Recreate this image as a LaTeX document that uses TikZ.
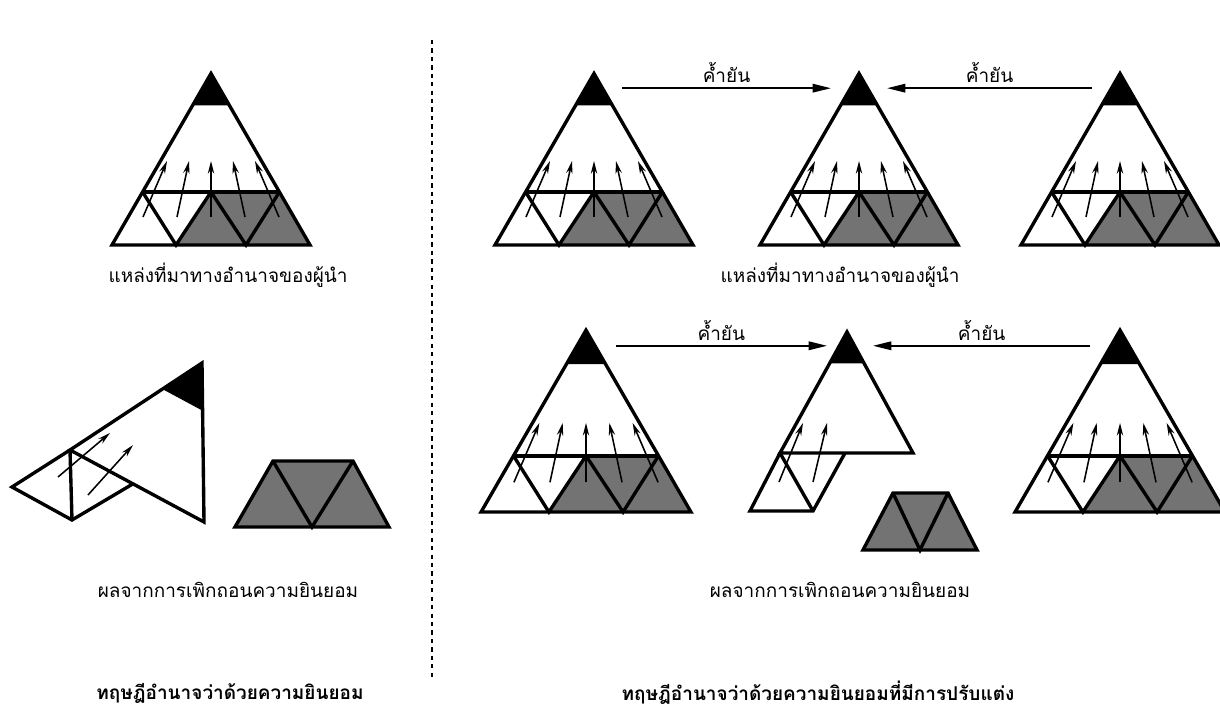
\documentclass[tikz,border=0pt]{standalone}
\usepackage{fontspec}
\newfontfamily\thaifont[Script=Thai]{Loma}
\usetikzlibrary{arrows.meta, calc}

\begin{document}
\begin{tikzpicture}[
    rim/.style={line width=2.4pt, line join=miter},
    crown/.style={fill=black},
    graypart/.style={fill=black!55},
    force/.style={-{Stealth[length=9pt, width=4.5pt]}, line width=1.1pt},
    push/.style={-{Triangle[length=13pt, width=6pt]}, line width=1.3pt},
    caption/.style={font=\thaifont\fontsize{13.5}{16}\selectfont},
    heading/.style={font=\thaifont\bfseries\fontsize{13.5}{16}\selectfont},
    leader/.pic={
        \fill[graypart] (-0.875,0) -- (2.475,0) -- (1.71,1.325) -- (0,1.325) -- cycle;
        \fill[crown] (0,4.287) -- (-0.46,3.49) -- (0.46,3.49) -- cycle;
        \draw[rim] (-2.475,0) -- (2.475,0) -- (0,4.287) -- cycle;
        \draw[rim] (-1.71,1.325) -- (1.71,1.325);
        \draw[rim] (-1.71,1.325) -- (-0.875,0) -- (0,1.325) -- (0.875,0) -- (1.71,1.325);
        \foreach \t/\h in {-1.7/-1.1, -0.85/-0.55, 0/0, 0.85/0.55, 1.7/1.1}
            \draw[force] (\t,0.7) -- (\h,2.1);
        \coordinate (-west) at (-0.7,3.92);
        \coordinate (-east) at (0.7,3.92);
    },
]
\useasboundingbox (0,0) rectangle (30.5,17.825);

% left panel
\pic (T0) at (5.275,11.7) {leader};
\node[caption] (srcL) at (5.7,10.95) {แหล่งที่มาทางอำนาจของผู้นำ};

% broken pyramid, left
\coordinate (lA) at (5.05,8.75);
\coordinate (lB) at (1.75,6.575);
\coordinate (lC) at (5.1,4.775);
\coordinate (lD) at (0.3,5.65);
\coordinate (lE) at (1.8,4.825);
\coordinate (lF) at ($(lB)!0.47!(lC)$);
\fill[crown] (lA) -- ($(lA)!0.3!(lB)$) -- ($(lA)!0.3!(lC)$) -- cycle;
\draw[rim] (lA) -- (lB) -- (lC) -- cycle;
\draw[rim] (lB) -- (lD) -- (lE) -- (lF);
\draw[rim] (lB) -- (lE);
\draw[force] (1.45,5.9) -- (2.75,7.0);
\draw[force] (2.2,5.45) -- (3.325,6.7);
\fill[graypart] (5.875,4.65) -- (6.825,6.3) -- (8.825,6.3) -- (9.725,4.65) -- cycle;
\draw[rim] (5.875,4.65) -- (6.825,6.3) -- (8.825,6.3) -- (9.725,4.65) -- cycle;
\draw[rim] (6.825,6.3) -- (7.8,4.65) -- (8.825,6.3);
\node[caption] (resL) at (5.7,3.075) {ผลจากการเพิกถอนความยินยอม};

\node[heading] (theoryL) at (5.75,0.5) {ทฤษฎีอำนาจว่าด้วยความยินยอม};

% divider
\coordinate (divT) at (10.8,16.825);
\coordinate (divB) at (10.8,0.825);
\draw[dashed, line width=0.8pt] (divT) -- (divB);

% right panel, top row
\pic (R1) at (14.85,11.7) {leader};
\pic (R2) at (21.475,11.7) {leader};
\pic (R3) at (28.0,11.7) {leader};
\draw[push] (R1-east) -- node[caption, above] (propA) {ค้ำยัน} (R2-west);
\draw[push] (R3-west) -- node[caption, above] (propB) {ค้ำยัน} (R2-east);
\node[caption] (srcR) at (21.0,10.95) {แหล่งที่มาทางอำนาจของผู้นำ};

% right panel, bottom row
\pic[scale=1.06] (B1) at (14.65,5.025) {leader};
\pic[scale=1.06] (B3) at (28.0,5.025) {leader};
\coordinate (mA) at (21.175,9.525);
\coordinate (mL) at (19.5,6.5);
\coordinate (mR) at (22.825,6.5);
\coordinate (mW) at (20.675,9.25);
\coordinate (mE) at (21.825,9.25);
\fill[crown] (mA) -- ($(mA)!0.26!(mL)$) -- ($(mA)!0.26!(mR)$) -- cycle;
\draw[rim] (mA) -- (mL) -- (mR) -- cycle;
\draw[rim] (mL) -- (18.75,5.05) -- (20.325,5.05) -- (21.125,6.5);
\draw[rim] (mL) -- (20.325,5.05);
\draw[force] (19.475,5.775) -- (20.075,7.25);
\draw[force] (20.325,5.775) -- (20.675,7.25);
\fill[graypart] (21.575,4.075) -- (22.325,5.5) -- (23.7,5.5) -- (24.425,4.075) -- cycle;
\draw[rim] (21.575,4.075) -- (22.325,5.5) -- (23.7,5.5) -- (24.425,4.075) -- cycle;
\draw[rim] (22.325,5.5) -- (23.0,4.075) -- (23.7,5.5);
\draw[push] (B1-east) -- node[caption, above] (propC) {ค้ำยัน} (B1-east -| mW);
\draw[push] (B3-west) -- node[caption, above] (propD) {ค้ำยัน} (B3-west -| mE);
\node[caption] (resR) at (21.0,3.075) {ผลจากการเพิกถอนความยินยอม};

\node[heading] (theoryR) at (20.45,0.5) {ทฤษฎีอำนาจว่าด้วยความยินยอมที่มีการปรับแต่ง};
\end{tikzpicture}
\end{document}
